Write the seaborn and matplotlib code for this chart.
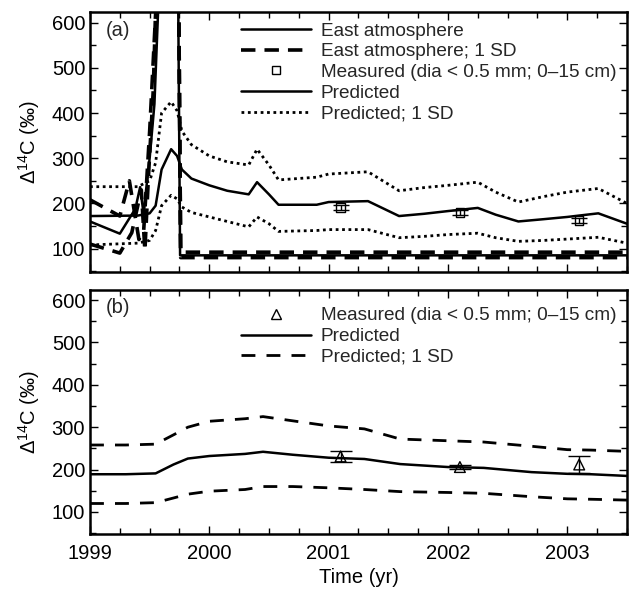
import numpy as np
import pandas as pd
import matplotlib
matplotlib.use("Agg")
import matplotlib.pyplot as plt
from matplotlib.lines import Line2D
from matplotlib.ticker import MultipleLocator
import seaborn as sns

# ---------------- data: panel (a) ----------------
east_x = [1999.0, 1999.25, 1999.38, 1999.42, 1999.45, 1999.47, 1999.5, 1999.54, 1999.57, 1999.6, 1999.7, 1999.74, 1999.755, 2003.5]
east_y = [160, 133, 188, 236, 175, 230, 300, 420, 620, 900, 900, 620, 85, 85]
east_lo_x = [1999.0, 1999.25, 1999.35, 1999.43, 1999.46, 1999.49, 1999.53, 1999.58, 1999.7, 1999.745, 1999.76, 2003.5]
east_lo_y = [110, 90, 135, 230, 95, 260, 450, 900, 900, 620, 80, 80]
east_hi_x = [1999.0, 1999.25, 1999.33, 1999.41, 1999.45, 1999.5, 1999.55, 1999.6, 1999.7, 1999.745, 1999.76, 2003.5]
east_hi_y = [208, 172, 250, 120, 140, 360, 620, 900, 900, 620, 92, 92]

pred_a_x = [1999.0, 1999.4, 1999.5, 1999.55, 1999.6, 1999.68, 1999.73, 1999.77, 1999.85, 2000.0, 2000.15, 2000.33, 2000.4, 2000.5, 2000.58, 2000.9, 2001.0, 2001.33, 2001.59, 2001.8, 2002.0, 2002.25, 2002.4, 2002.59, 2002.8, 2003.0, 2003.26, 2003.5]
pred_a_y = [172, 173, 178, 195, 275, 320, 305, 275, 255, 240, 228, 220, 247, 220, 197, 197, 203, 205, 172, 177, 183, 190, 175, 160, 165, 170, 178, 155]
pred_a_hi_y = [237, 237, 250, 290, 400, 425, 405, 360, 330, 305, 292, 285, 320, 285, 252, 258, 265, 270, 228, 235, 240, 247, 225, 203, 215, 225, 233, 200]
pred_a_lo_y = [108, 112, 118, 140, 195, 218, 210, 192, 180, 170, 160, 148, 170, 155, 138, 140, 142, 142, 124, 127, 131, 134, 124, 116, 118, 121, 125, 112]

meas_a_x = [2001.1, 2002.1, 2003.1]
meas_a_y = [191, 180, 162]
meas_a_err = [6, 5, 6]

# ---------------- data: panel (b) ----------------
pred_b_x = [1999.0, 1999.3, 1999.55, 1999.7, 1999.82, 2000.0, 2000.3, 2000.45, 2000.7, 2001.0, 2001.3, 2001.6, 2002.0, 2002.3, 2002.7, 2003.0, 2003.2, 2003.5]
pred_b_y = [189, 189, 191, 212, 226, 232, 237, 242, 235, 228, 225, 213, 206, 204, 194, 190, 189, 185]
pred_b_hi_y = [258, 258, 260, 282, 300, 314, 320, 325, 315, 303, 296, 272, 268, 265, 255, 247, 246, 243]
pred_b_lo_y = [120, 120, 122, 133, 142, 149, 153, 160, 160, 157, 153, 148, 146, 144, 136, 131, 130, 128]

meas_b_x = [2001.1, 2002.1, 2003.1]
meas_b_y = [231, 206, 212]
meas_b_err = [13, 4, 19]

# ---------------- style ----------------
sns.set_theme(style="ticks")
plt.rcParams["font.family"] = ["Liberation Sans", "DejaVu Sans"]
plt.rcParams["mathtext.fontset"] = "custom"
plt.rcParams["mathtext.rm"] = "Liberation Sans"
plt.rcParams["mathtext.it"] = "Liberation Sans"

FS_TICK = 14.5
FS_LEG = 13.7

fig = plt.figure(figsize=(6.32, 5.94), dpi=100)
ax_a = fig.add_axes([0.1424, 0.542, 0.8496, 0.438])
ax_b = fig.add_axes([0.1424, 0.101, 0.8496, 0.411])

K = "black"
dot = (0, (1.0, 1.3))

def line(ax, x, y, **kw):
    sns.lineplot(x=x, y=y, ax=ax, color=K, estimator=None, sort=False, **kw)

# panel (a)
line(ax_a, east_x, east_y, linewidth=1.8)
line(ax_a, east_lo_x, east_lo_y, linewidth=2.6, linestyle=(0, (4, 2.5)))
line(ax_a, east_hi_x, east_hi_y, linewidth=2.6, linestyle=(0, (4, 2.5)))
line(ax_a, pred_a_x, pred_a_y, linewidth=1.8)
line(ax_a, pred_a_x, pred_a_hi_y, linewidth=2.0, linestyle=dot)
line(ax_a, pred_a_x, pred_a_lo_y, linewidth=2.0, linestyle=dot)
ax_a.errorbar(meas_a_x, meas_a_y, yerr=meas_a_err, fmt="none", ecolor=K, elinewidth=1.0, capsize=6, capthick=1.0)
sns.scatterplot(x=meas_a_x, y=meas_a_y, ax=ax_a, marker="s", s=36, facecolor="none", edgecolor=K, linewidth=1.0)

# panel (b)
line(ax_b, pred_b_x, pred_b_y, linewidth=1.8)
line(ax_b, pred_b_x, pred_b_hi_y, linewidth=2.0, linestyle=(0, (5, 4)))
line(ax_b, pred_b_x, pred_b_lo_y, linewidth=2.0, linestyle=(0, (5, 4)))
ax_b.errorbar(meas_b_x, meas_b_y, yerr=meas_b_err, fmt="none", ecolor=K, elinewidth=1.0, capsize=8, capthick=1.0)
sns.scatterplot(x=meas_b_x, y=meas_b_y, ax=ax_b, marker="^", s=60, facecolor="none", edgecolor=K, linewidth=1.0)

for ax in (ax_a, ax_b):
    ax.set_xlim(1999, 2003.5)
    ax.set_ylim(48, 624)
    ax.xaxis.set_major_locator(MultipleLocator(1))
    ax.xaxis.set_minor_locator(MultipleLocator(0.25))
    ax.yaxis.set_major_locator(MultipleLocator(100))
    ax.yaxis.set_minor_locator(MultipleLocator(50))
    ax.tick_params(which="both", direction="in", top=True, right=True, colors=K, labelsize=FS_TICK, width=1.0)
    ax.tick_params(which="major", length=6)
    ax.tick_params(which="minor", length=4)
    for sp in ax.spines.values():
        sp.set_visible(True)
        sp.set_linewidth(1.8)
        sp.set_color(K)
    ax.set_ylabel("Δ$^{14}$C (‰)", fontsize=FS_TICK, color=K)
    ax.yaxis.set_label_coords(-0.09, 0.5)
    ax.set_yticks([100, 200, 300, 400, 500, 600])

ax_a.set_xticklabels([])
ax_a.set_xlabel("")
ax_b.set_xticks([1999, 2000, 2001, 2002, 2003])
ax_b.set_xticklabels(["1999", "2000", "2001", "2002", "2003"])
ax_b.set_xlabel("Time (yr)", fontsize=FS_TICK, color=K, labelpad=4)
ax_b.tick_params(axis="x", pad=7)

ax_a.text(0.03, 0.965, "(a)", transform=ax_a.transAxes, fontsize=FS_TICK, va="top", ha="left")
ax_b.text(0.03, 0.965, "(b)", transform=ax_b.transAxes, fontsize=FS_TICK, va="top", ha="left")

h_a = [
    Line2D([], [], color=K, linewidth=1.8),
    Line2D([], [], color=K, linewidth=2.6, linestyle=(0, (4, 2.5))),
    Line2D([], [], color=K, linestyle="none", marker="s", markersize=6, markerfacecolor="none", markeredgewidth=1.0),
    Line2D([], [], color=K, linewidth=1.8),
    Line2D([], [], color=K, linewidth=2.0, linestyle=dot),
]
l_a = ["East atmosphere", "East atmosphere; 1 SD", "Measured (dia < 0.5 mm; 0–15 cm)", "Predicted", "Predicted; 1 SD"]
ax_a.legend(h_a, l_a, loc="upper right", frameon=False, fontsize=FS_LEG, handlelength=3.7,
            handletextpad=0.5, labelspacing=0.18, borderaxespad=0.15, borderpad=0.4)

h_b = [
    Line2D([], [], color=K, linestyle="none", marker="^", markersize=7, markerfacecolor="none", markeredgewidth=1.0),
    Line2D([], [], color=K, linewidth=1.8),
    Line2D([], [], color=K, linewidth=2.0, linestyle=(0, (5, 4))),
]
l_b = ["Measured (dia < 0.5 mm; 0–15 cm)", "Predicted", "Predicted; 1 SD"]
ax_b.legend(h_b, l_b, loc="upper right", bbox_to_anchor=(1.0, 0.972), frameon=False, fontsize=FS_LEG,
            handlelength=3.7, handletextpad=0.5, labelspacing=0.18, borderaxespad=0.15, borderpad=0.4)

fig.savefig("out.png", dpi=100, facecolor="white")
